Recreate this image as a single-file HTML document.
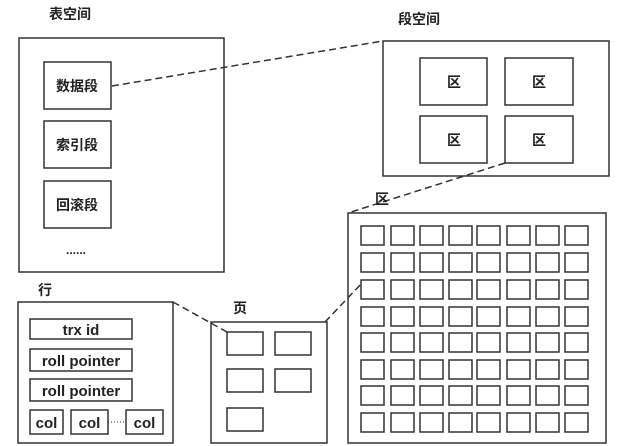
<!DOCTYPE html>
<html><head><meta charset="utf-8"><style>
body{margin:0;background:#fff;}
svg{display:block}
text{font-family:"Liberation Sans","Noto Sans CJK SC",sans-serif;font-weight:bold;fill:#222;}
</style></head><body>
<svg width="624" height="446" viewBox="0 0 624 446" xmlns="http://www.w3.org/2000/svg">
<g fill="none" stroke="#333" stroke-width="1.5">
<rect x="19" y="38" width="205" height="234"/>
<rect x="44" y="62" width="67" height="47"/>
<rect x="44" y="121" width="67" height="47"/>
<rect x="44" y="181" width="67" height="47"/>
<rect x="383" y="41" width="226" height="135"/>
<rect x="420" y="58" width="67" height="47"/>
<rect x="505" y="58" width="68" height="47"/>
<rect x="420" y="116" width="67" height="47"/>
<rect x="505" y="116" width="68" height="47"/>
<rect x="348" y="213" width="258" height="230"/>
<rect x="18" y="302" width="155" height="141"/>
<rect x="30" y="319" width="102" height="20"/>
<rect x="30" y="349" width="102" height="22"/>
<rect x="30" y="379" width="102" height="22"/>
<rect x="30" y="410" width="33" height="24"/>
<rect x="71" y="410" width="37" height="24"/>
<rect x="126" y="410" width="37" height="24"/>
<rect x="211" y="322" width="116" height="121"/>
<rect x="227" y="332" width="36" height="23"/>
<rect x="275" y="332" width="36" height="23"/>
<rect x="227" y="369" width="36" height="23"/>
<rect x="275" y="369" width="36" height="23"/>
<rect x="227" y="408" width="36" height="23"/>
</g>
<g stroke="#333" stroke-width="1.5" stroke-dasharray="7,4" fill="none">
<line x1="112" y1="86" x2="383" y2="41"/>
<line x1="505" y1="163" x2="348" y2="213"/>
<line x1="173" y1="302" x2="227" y2="332"/>
<line x1="325" y1="322" x2="362" y2="283"/>
</g>
<line x1="108" y1="422" x2="126" y2="422" stroke="#333" stroke-width="1" stroke-dasharray="1,2"/>
<g font-size="14">
<text x="49" y="19">表空间</text>
<text x="398" y="24">段空间</text>
<text x="56" y="91">数据段</text>
<text x="56" y="150">索引段</text>
<text x="56" y="210">回滚段</text>
<text x="66" y="254" font-size="12">......</text>
<text x="447" y="87">区</text>
<text x="532" y="87">区</text>
<text x="447" y="145">区</text>
<text x="532" y="145">区</text>
<text x="375" y="204">区</text>
<text x="38" y="295">行</text>
<text x="233" y="313">页</text>
<g font-size="15">
<text x="81" y="335" text-anchor="middle">trx id</text>
<text x="81" y="366" text-anchor="middle">roll pointer</text>
<text x="81" y="396" text-anchor="middle">roll pointer</text>
<text x="46.5" y="428" text-anchor="middle">col</text>
<text x="89.5" y="428" text-anchor="middle">col</text>
<text x="144.5" y="428" text-anchor="middle">col</text>
</g>
</g>
<g fill="none" stroke="#333" stroke-width="1.5">
<rect x="361" y="226" width="23" height="19"/><rect x="391" y="226" width="23" height="19"/><rect x="420" y="226" width="23" height="19"/><rect x="449" y="226" width="23" height="19"/><rect x="477" y="226" width="23" height="19"/><rect x="507" y="226" width="23" height="19"/><rect x="536" y="226" width="23" height="19"/><rect x="565" y="226" width="23" height="19"/>
<rect x="361" y="253" width="23" height="19"/><rect x="391" y="253" width="23" height="19"/><rect x="420" y="253" width="23" height="19"/><rect x="449" y="253" width="23" height="19"/><rect x="477" y="253" width="23" height="19"/><rect x="507" y="253" width="23" height="19"/><rect x="536" y="253" width="23" height="19"/><rect x="565" y="253" width="23" height="19"/>
<rect x="361" y="280" width="23" height="19"/><rect x="391" y="280" width="23" height="19"/><rect x="420" y="280" width="23" height="19"/><rect x="449" y="280" width="23" height="19"/><rect x="477" y="280" width="23" height="19"/><rect x="507" y="280" width="23" height="19"/><rect x="536" y="280" width="23" height="19"/><rect x="565" y="280" width="23" height="19"/>
<rect x="361" y="307" width="23" height="19"/><rect x="391" y="307" width="23" height="19"/><rect x="420" y="307" width="23" height="19"/><rect x="449" y="307" width="23" height="19"/><rect x="477" y="307" width="23" height="19"/><rect x="507" y="307" width="23" height="19"/><rect x="536" y="307" width="23" height="19"/><rect x="565" y="307" width="23" height="19"/>
<rect x="361" y="333" width="23" height="19"/><rect x="391" y="333" width="23" height="19"/><rect x="420" y="333" width="23" height="19"/><rect x="449" y="333" width="23" height="19"/><rect x="477" y="333" width="23" height="19"/><rect x="507" y="333" width="23" height="19"/><rect x="536" y="333" width="23" height="19"/><rect x="565" y="333" width="23" height="19"/>
<rect x="361" y="360" width="23" height="19"/><rect x="391" y="360" width="23" height="19"/><rect x="420" y="360" width="23" height="19"/><rect x="449" y="360" width="23" height="19"/><rect x="477" y="360" width="23" height="19"/><rect x="507" y="360" width="23" height="19"/><rect x="536" y="360" width="23" height="19"/><rect x="565" y="360" width="23" height="19"/>
<rect x="361" y="386" width="23" height="19"/><rect x="391" y="386" width="23" height="19"/><rect x="420" y="386" width="23" height="19"/><rect x="449" y="386" width="23" height="19"/><rect x="477" y="386" width="23" height="19"/><rect x="507" y="386" width="23" height="19"/><rect x="536" y="386" width="23" height="19"/><rect x="565" y="386" width="23" height="19"/>
<rect x="361" y="413" width="23" height="19"/><rect x="391" y="413" width="23" height="19"/><rect x="420" y="413" width="23" height="19"/><rect x="449" y="413" width="23" height="19"/><rect x="477" y="413" width="23" height="19"/><rect x="507" y="413" width="23" height="19"/><rect x="536" y="413" width="23" height="19"/><rect x="565" y="413" width="23" height="19"/>
</g>
</svg>
</body></html>
